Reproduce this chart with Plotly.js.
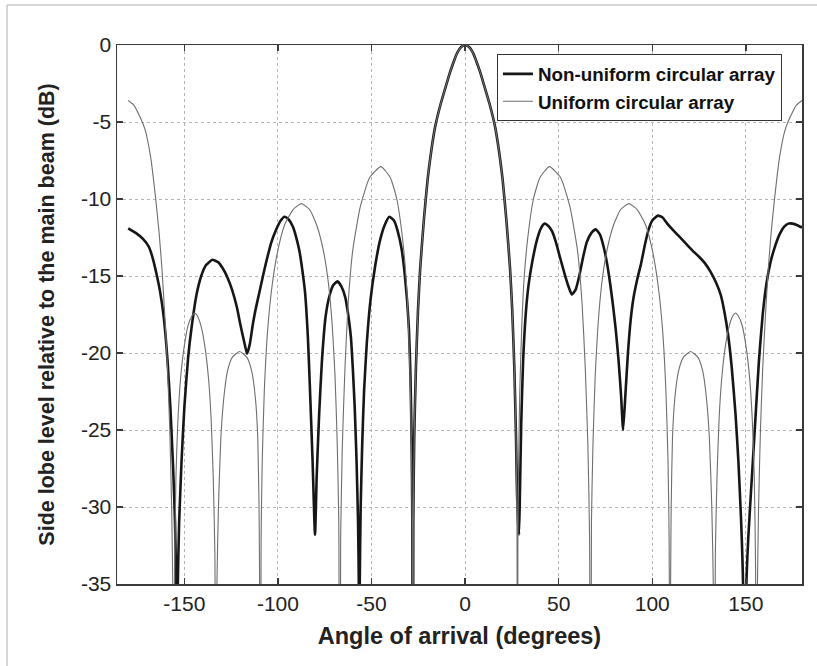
<!DOCTYPE html>
<html>
<head>
<meta charset="utf-8">
<script src="https://cdn.plot.ly/plotly-3.0.1.min.js"></script>
<style>
  html, body { margin: 0; padding: 0; background: #fff; }
  #chart { width: 817px; height: 666px; }
</style>
</head>
<body>
<div id="chart"></div>
<script>
// Uniform circular array (thin gray curve), angle in degrees, level in dB
const uniformAngle = [
  -180, -177, -174, -171, -168, -165.5, -163.5, -162, -160.5, -159, -157.8, -156.8, -156.1, -155.7,
  -155.2, -154.5, -153.5, -152, -150, -148, -146, -144.5, -143, -141, -139, -137, -135.7, -134.6, -133.7, -133.1,
  -132.6, -131.8, -130.5, -129, -127, -124.5, -120.5, -116.5, -114, -112, -110.8, -110.1, -109.8, -109.5,
  -109, -108.4, -107.3, -105.5, -103, -100, -96.5, -92, -87.5, -83, -79, -75.5, -73, -71, -69.5, -68.3, -67.5, -67,
  -66.5, -65.6, -64.2, -62.5, -60, -56, -51, -45, -40, -36.5, -33.5, -31.5, -30.2, -29.2, -28.6, -28.2, -28,
  -27.7, -27.2, -26.3, -25.2, -24, -22, -20, -18, -16, -13, -10, -8, -6, -4, -2, 0,
  2, 4, 6, 8, 10, 13, 16, 18, 20, 22, 24, 25.2, 26.3, 27.2, 27.7,
  28, 28.2, 28.6, 29.2, 30.2, 31.5, 33.5, 36.5, 40, 45, 51, 56, 60, 62.5, 64.2, 65.6, 66.5,
  67, 67.5, 68.3, 69.5, 71, 73, 75.5, 79, 83, 87.5, 92, 96.5, 100, 103, 105.5, 107.3, 108.4, 109,
  109.5, 109.8, 110.1, 110.8, 112, 114, 116.5, 120.5, 124.5, 127, 129, 130.5, 131.8, 132.6,
  133.1, 133.7, 134.6, 135.7, 137, 139, 141, 143, 144.5, 146, 148, 150, 152, 153.5, 154.5, 155.2,
  155.7, 156.1, 156.8, 157.8, 159, 160.5, 162, 163.5, 165.5, 168, 171, 174, 177, 180
];
const uniformDb = [
  -3.6, -3.9, -4.6, -5.5, -7.3, -9.8, -12.2, -14.5, -17.5, -21, -25, -30, -36, -60,
  -34, -28, -24.5, -21.6, -19.5, -18.2, -17.6, -17.4, -17.6, -18.3, -19.6, -21.8, -24.3, -28, -33, -60,
  -35, -30, -25.5, -23, -21.2, -20.3, -19.9, -20.3, -21.2, -23, -25.5, -30, -35, -60,
  -32, -27, -22.5, -18.5, -15.5, -13.3, -11.7, -10.7, -10.3, -10.7, -11.8, -13.5, -15.5, -18.2, -21.5, -26, -31, -60,
  -32, -26, -21, -16.8, -13.3, -10.5, -8.6, -7.9, -8.6, -10, -12.5, -15.2, -18.5, -22.5, -27, -32, -60,
  -31, -25.5, -21, -17.3, -14.5, -11.3, -8.7, -6.8, -5.3, -3.8, -2.55, -1.75, -1.05, -0.47, -0.12, 0,
  -0.12, -0.47, -1.05, -1.75, -2.55, -3.8, -5.3, -6.8, -8.7, -11.3, -14.5, -17.3, -21, -25.5, -31,
  -60, -32, -27, -22.5, -18.5, -15.2, -12.5, -10, -8.6, -7.9, -8.6, -10.5, -13.3, -16.8, -21, -26, -32,
  -60, -31, -26, -21.5, -18.2, -15.5, -13.5, -11.8, -10.7, -10.3, -10.7, -11.7, -13.3, -15.5, -18.5, -22.5, -27, -32,
  -60, -35, -30, -25.5, -23, -21.2, -20.3, -19.9, -20.3, -21.2, -23, -25.5, -30, -35,
  -60, -33, -28, -24.3, -21.8, -19.6, -18.3, -17.6, -17.4, -17.6, -18.2, -19.5, -21.6, -24.5, -28, -34,
  -60, -36, -30, -25, -21, -17.5, -14.5, -12.2, -9.8, -7.3, -5.5, -4.6, -3.9, -3.6
];

// Non-uniform circular array (thick black curve)
const nonUniformAngle = [
  -180, -176, -172, -169, -167, -165, -163, -161, -159, -157.5, -156, -155, -154.4, -154,
  -153.5, -152.8, -151.5, -150, -148, -146, -143.5, -141, -138.5, -135, -132, -129.5, -127, -124.5, -122, -120, -118, -116.5,
  -115, -113.5, -112, -110, -108, -106.5, -103.5, -101, -98.5, -96.5, -94.5, -92, -90, -88.5, -87, -85.5, -84, -83, -81.5, -80.2,
  -79.3, -78, -76.5, -74.5, -72.5, -70.5, -68.2, -66, -64, -62.5, -61, -60, -59, -58, -57.2, -56.8, -56.6,
  -56.3, -55.8, -55, -54, -52.5, -50.5, -48, -45.5, -43, -40.5, -38, -36, -34, -32.5, -31, -30, -29.2, -28.6, -28.2, -28,
  -27.7, -27.2, -26.3, -25.2, -24, -22, -20, -18, -16, -13, -10, -8, -6, -4, -2, 0,
  2, 4, 6, 8, 10, 13, 16, 18, 20, 22, 24, 25.2, 26.3, 27.2, 27.7, 28.3, 28.8,
  29.3, 30, 31, 32.5, 34, 36, 38.5, 40.5, 42.5, 44.5, 46.5, 48.5, 50.5, 53, 55, 57,
  59, 61, 63, 65, 67.5, 69.8, 72, 74, 76, 77.5, 79, 80.5, 82, 83.3, 84.4,
  85.5, 87, 88.5, 90, 92, 94, 96, 98, 100, 103, 105.5, 108, 111, 114.5, 118, 121.5, 125, 128, 131, 134, 136.5, 138.5, 140.5, 142.5, 144.5, 146, 147.5, 148.5, 149.2,
  150.3, 151.3, 153, 155, 157, 159, 161, 163, 165, 168, 170.5, 172.7, 175, 177.5, 180
];
const nonUniformDb = [
  -11.9, -12.2, -12.6, -13.1, -13.8, -14.8, -16.0, -17.7, -20.5, -23.5, -27.5, -31, -35, -60,
  -35, -31, -27, -23.5, -20.3, -18.2, -16.2, -15, -14.3, -13.95, -14.1, -14.5, -15.1, -15.9, -17.0, -18.2, -19.3, -20.05,
  -19.4, -18.2, -17.2, -16.1, -15.0, -14.2, -12.8, -12.0, -11.4, -11.15, -11.3, -11.8, -12.6, -13.4, -14.6, -16.1, -19.0, -22, -27, -31.8,
  -28, -24, -20.5, -17.6, -16.3, -15.6, -15.35, -15.7, -16.4, -17.5, -19, -21, -23.5, -27, -31, -35, -60,
  -35, -30, -26, -22.5, -19.3, -16.5, -14.3, -12.7, -11.7, -11.15, -11.4, -12.1, -13.2, -14.6, -16.6, -18.5, -21.5, -25.5, -31, -60,
  -31, -25.5, -21, -17.3, -14.5, -11.3, -8.7, -6.8, -5.3, -3.8, -2.55, -1.75, -1.05, -0.47, -0.12, 0,
  -0.12, -0.47, -1.05, -1.75, -2.55, -3.8, -5.3, -6.8, -8.7, -11.3, -14.5, -17.3, -21, -25.5, -29, -31, -31.8,
  -29, -24.5, -20.5, -17.3, -15.5, -14, -12.6, -11.9, -11.6, -11.75, -12.1, -12.8, -13.7, -14.8, -15.6, -16.2,
  -15.9, -15, -13.8, -12.8, -12.2, -11.97, -12.3, -13.1, -14.3, -15.5, -16.9, -18.5, -20.5, -22.7, -25,
  -23, -20, -17.8, -16.4, -15.2, -14.2, -13, -12, -11.4, -11.08, -11.2, -11.6, -12, -12.45, -12.9, -13.35, -13.75, -14.15, -14.7, -15.4, -16.2, -17.3, -18.8, -21, -24, -27, -31, -35, -60,
  -35, -32, -28.5, -24.5, -20.5, -17.5, -15.5, -14.2, -13.3, -12.3, -11.8, -11.6, -11.6, -11.7, -11.85
];

const seriesNames = ['Non-uniform circular array', 'Uniform circular array'];
const xTickVals = [-150, -100, -50, 0, 50, 100, 150];
const xTickText = ['-150', '-100', '-50', '0', '50', '100', '150'];
const yTickVals = [0, -5, -10, -15, -20, -25, -30, -35];
const yTickText = ['0', '-5', '-10', '-15', '-20', '-25', '-30', '-35'];
const xTitle = 'Angle of arrival (degrees)';
const yTitle = 'Side lobe level relative to the main beam (dB)';

const FONT = 'Liberation Sans, Arial, sans-serif';

const traces = [
  {
    x: nonUniformAngle, y: nonUniformDb, name: seriesNames[0],
    type: 'scatter', mode: 'lines',
    line: { color: '#161616', width: 2.6, shape: 'spline', smoothing: 0.5 }
  },
  {
    x: uniformAngle, y: uniformDb, name: seriesNames[1],
    type: 'scatter', mode: 'lines',
    line: { color: '#6e6e6e', width: 1.1, shape: 'spline', smoothing: 0.5 }
  }
];

const axisCommon = {
  showline: true, mirror: 'ticks', linecolor: '#3a3a3a', linewidth: 1.5,
  ticks: 'inside', ticklen: 6, tickwidth: 1.5, tickcolor: '#3a3a3a',
  showgrid: true, gridcolor: '#b5b5b5', griddash: 'dot', gridwidth: 1,
  zeroline: false, tickmode: 'array',
  tickfont: { family: FONT, size: 21, color: '#222' }
};

const layout = {
  width: 817, height: 666,
  margin: { l: 117, r: 15, t: 45, b: 82 },
  paper_bgcolor: '#fff', plot_bgcolor: '#fff',
  showlegend: true,
  xaxis: Object.assign({}, axisCommon, {
    range: [-186, 180], tickvals: xTickVals, ticktext: xTickText,
    title: { text: xTitle, font: { family: FONT, size: 23.5, color: '#222', weight: 'bold' }, standoff: 14 }
  }),
  yaxis: Object.assign({}, axisCommon, {
    range: [-35, 0], tickvals: yTickVals, ticktext: yTickText,
    title: { text: yTitle, font: { family: FONT, size: 21.5, color: '#222', weight: 'bold' }, standoff: 20 }
  }),
  legend: {
    x: 0.5547, y: 0.983, xanchor: 'left', yanchor: 'top',
    bgcolor: '#fff', bordercolor: '#333', borderwidth: 1,
    font: { family: FONT, size: 18.8, color: '#111', weight: 'bold' },
    itemwidth: 30, tracegroupgap: 0
  },
  shapes: [
    { type: 'line', xref: 'paper', yref: 'paper', x0: -0.1606, x1: -0.1606, y0: -0.16, y1: 1.0742,
      line: { color: '#c8c8c8', width: 1.5 } },
    { type: 'line', xref: 'paper', yref: 'paper', x0: -0.1606, x1: 1.03, y0: 1.0742, y1: 1.0742,
      line: { color: '#c8c8c8', width: 1.5 } }
  ]
};

Plotly.newPlot('chart', traces, layout, { displayModeBar: false, staticPlot: true });
</script>
</body>
</html>
